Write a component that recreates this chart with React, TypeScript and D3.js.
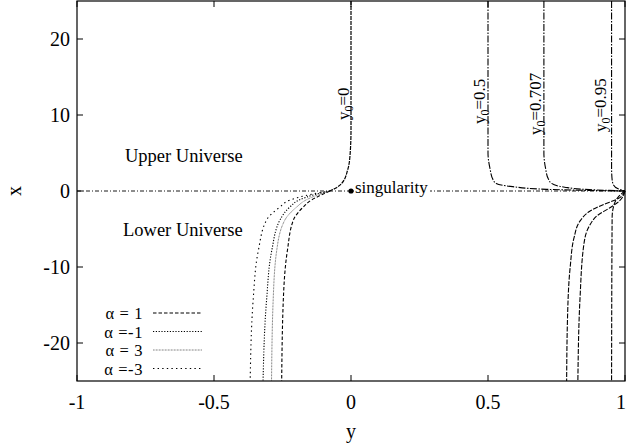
import React from "react";
import * as d3 from "d3";

// tick labels
const xTicks = [-1, -0.5, 0, 0.5, 1];
const yTicks = [-20, -10, 0, 10, 20];

// upper branch shared by all alpha (points: [y, x])
const upperY0_0: [number, number][] = [[0, 25], [0, 8], [-0.004, 4.5], [-0.012, 2.8], [-0.034, 1.0], [-0.055, 0.4], [-0.077, 0]];

const alphaNames = ["α = 1", "α =-1", "α = 3", "α =-3"];
const lowerAlpha1: [number, number][] = [[-0.077, 0], [-0.11, -0.55], [-0.145, -1.2], [-0.174, -2.1], [-0.21, -3.8], [-0.232, -7.8], [-0.247, -14.3], [-0.253, -25]];
const lowerAlphaM1: [number, number][] = [[-0.077, 0], [-0.13, -0.45], [-0.19, -1.2], [-0.223, -2.1], [-0.259, -3.8], [-0.289, -7.8], [-0.308, -14.3], [-0.321, -25]];
const lowerAlpha3: [number, number][] = [[-0.077, 0], [-0.12, -0.5], [-0.165, -1.2], [-0.198, -2.1], [-0.241, -3.8], [-0.271, -7.8], [-0.284, -14.3], [-0.29, -25]];
const lowerAlphaM3: [number, number][] = [[-0.077, 0], [-0.14, -0.4], [-0.223, -1.2], [-0.259, -2.1], [-0.308, -3.8], [-0.338, -7.8], [-0.357, -14.3], [-0.368, -25]];

const upperY0_05: [number, number][] = [[0.5, 25], [0.5, 5], [0.507, 3], [0.519, 1.45], [0.53, 1.0], [0.59, 0.57], [0.714, 0.22], [0.86, 0.08], [1, 0]];
const upperY0_0707: [number, number][] = [[0.704, 25], [0.704, 5], [0.71, 3], [0.72, 1.6], [0.732, 1.0], [0.78, 0.5], [0.87, 0.18], [1, 0]];
const upperY0_095: [number, number][] = [[0.951, 25], [0.951, 3], [0.953, 1.5], [0.958, 0.8], [0.975, 0.3], [1, 0]];

const lowerRightA: [number, number][] = [[1, 0], [0.975, -1.0], [0.92, -1.8], [0.87, -2.7], [0.835, -4.0], [0.815, -6], [0.8, -10], [0.79, -17], [0.787, -25]];
const lowerRightB: [number, number][] = [[1, 0], [0.98, -1.3], [0.945, -2.2], [0.9, -3.2], [0.87, -4.6], [0.85, -7], [0.836, -14], [0.828, -25]];
const lowerRightC: [number, number][] = [[1, 0], [0.975, -0.8], [0.96, -1.8], [0.953, -3.5], [0.951, -25]];

const curveLabels = [
  { y: 0, text: "0", bottom: 120, dx: -2 },
  { y: 0.5, text: "0.5", bottom: 124, dx: -3 },
  { y: 0.707, text: "0.707", bottom: 135, dx: -4 },
  { y: 0.95, text: "0.95", bottom: 132, dx: -5 },
];

const W = 626, H = 447;
const M = { left: 77, right: 625, top: 1, bottom: 381 };
const FONT = "'Liberation Serif', 'Times New Roman', serif";

export default function App() {
  const sx = d3.scaleLinear().domain([-1, 1]).range([M.left, M.right]);
  const sy = d3.scaleLinear().domain([-25, 25]).range([M.bottom, M.top]);
  const line = d3.line<[number, number]>().x(d => sx(d[0])).y(d => sy(d[1])).curve(d3.curveMonotoneY);

  const alphaStyles = [
    { dash: "3.5,2", color: "#000", w: 1.1 },
    { dash: "1.2,1.6", color: "#000", w: 1.1 },
    { dash: "0.8,0.7", color: "#555", w: 0.9 },
    { dash: "1.4,3.2", color: "#000", w: 1.1 },
  ];
  const lowerSets = [lowerAlpha1, lowerAlphaM1, lowerAlpha3, lowerAlphaM3];

  const tickLen = 6;
  return (
    <svg width={W} height={H} style={{ position: "absolute", left: 0, top: 0, background: "#fff" }} fontFamily={FONT}>
      {/* zero line */}
      <line x1={sx(-1)} x2={sx(1)} y1={sy(0)} y2={sy(0)} stroke="#000" strokeWidth={0.9} strokeDasharray="4,2,1,2" />
      {/* lower-left curves */}
      {lowerSets.map((s, i) => (
        <path key={"l" + i} d={line(s) || ""} fill="none" stroke={alphaStyles[i].color} strokeWidth={alphaStyles[i].w} strokeDasharray={alphaStyles[i].dash} />
      ))}
      {/* upper y0=0 */}
      <path d={line(upperY0_0) || ""} fill="none" stroke="#000" strokeWidth={1.2} strokeDasharray="4,1" />
      {/* upper right */}
      {[upperY0_05, upperY0_0707, upperY0_095].map((s, i) => (
        <path key={"u" + i} d={line(s) || ""} fill="none" stroke="#000" strokeWidth={1.1} strokeDasharray="7,1.5,1.5,1.5" />
      ))}
      {[lowerRightA, lowerRightB, lowerRightC].map((s, i) => (
        <path key={"r" + i} d={line(s) || ""} fill="none" stroke="#000" strokeWidth={1.1} strokeDasharray="5,1.5" />
      ))}
      {/* singularity */}
      <circle cx={sx(0)} cy={sy(0)} r={2.6} fill="#000" />
      <rect x={355} y={180} width={75} height={16} fill="#fff" />
      <text x={355} y={193} fontSize={17}>singularity</text>
      <text x={125} y={162} fontSize={18.5}>Upper Universe</text>
      <text x={123} y={236} fontSize={18.5}>Lower Universe</text>
      {/* curve labels */}
      {curveLabels.map((c, i) => (
        <text key={"c" + i} transform={`translate(${sx(c.y) + c.dx},${c.bottom}) rotate(-90)`} textAnchor="start" fontSize={17}>
          y<tspan fontSize={12} dy={4}>0</tspan><tspan dy={-4}>={c.text}</tspan>
        </text>
      ))}
      {/* legend */}
      {alphaNames.map((n, i) => (
        <g key={"lg" + i}>
          <text x={143} y={319 + i * 18.5} textAnchor="end" fontSize={16.5} letterSpacing={0.6}>{n}</text>
          <line x1={153} x2={202} y1={313 + i * 18.5} y2={313 + i * 18.5} stroke={alphaStyles[i].color} strokeWidth={alphaStyles[i].w} strokeDasharray={alphaStyles[i].dash} />
        </g>
      ))}
      {/* frame */}
      <rect x={M.left} y={M.top} width={M.right - M.left} height={M.bottom - M.top} fill="none" stroke="#000" strokeWidth={1.2} />
      {/* ticks */}
      {yTicks.map(t => (
        <g key={"yt" + t}>
          <line x1={M.left} x2={M.left + tickLen} y1={sy(t)} y2={sy(t)} stroke="#000" />
          <line x1={M.right - tickLen} x2={M.right} y1={sy(t)} y2={sy(t)} stroke="#000" />
          <text x={70} y={sy(t) + 7} textAnchor="end" fontSize={20}>{t}</text>
        </g>
      ))}
      {xTicks.map(t => (
        <g key={"xt" + t}>
          <line x1={sx(t)} x2={sx(t)} y1={M.bottom} y2={M.bottom - tickLen} stroke="#000" />
          <line x1={sx(t)} x2={sx(t)} y1={M.top} y2={M.top + tickLen} stroke="#000" />
          <text x={t === 1 ? sx(t) - 4 : sx(t)} y={409} textAnchor="middle" fontSize={20}>{t}</text>
        </g>
      ))}
      <text x={351} y={438} textAnchor="middle" fontSize={20}>y</text>
      <text transform={`translate(21,${sy(0)}) rotate(-90)`} textAnchor="middle" fontSize={20}>x</text>
    </svg>
  );
}
